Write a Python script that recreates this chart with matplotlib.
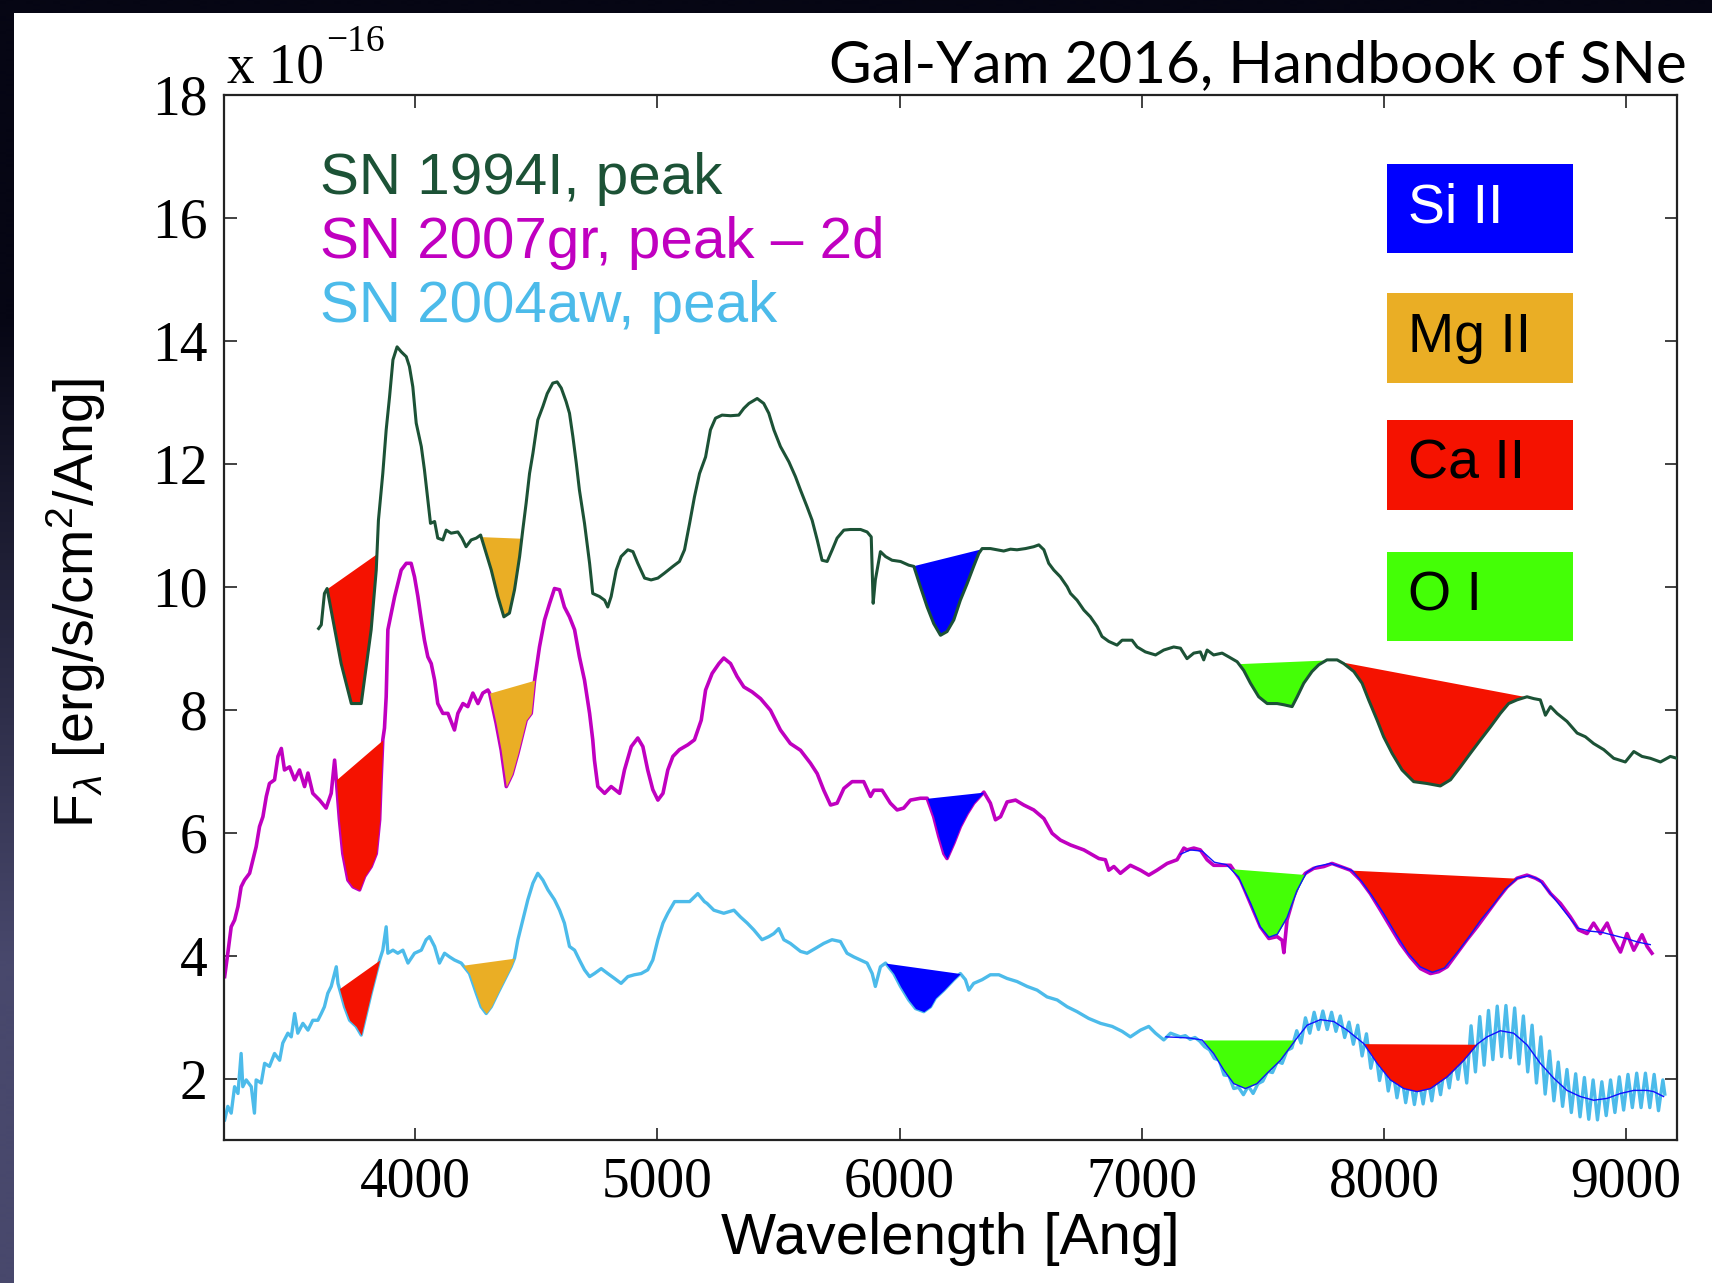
import matplotlib
matplotlib.use("Agg")
import matplotlib.pyplot as plt
from matplotlib.patches import Rectangle
import numpy as np

# ---------------------------------------------------------------------------
# Spektren (Wellenlaenge [Ang], Fluss [1e-16 erg/s/cm^2/Ang])
# ---------------------------------------------------------------------------
# SN 1994I, peak
sn94_wave = [3601, 3612, 3625, 3636, 3694, 3736, 3777, 3818, 3839, 3848, 3866, 3880, 3894, 3908,
             3925, 3942, 3963, 3976, 3990, 4004, 4025, 4038, 4052, 4063, 4080, 4093, 4114, 4128,
             4148, 4176, 4193, 4210, 4231, 4252, 4270, 4314, 4341, 4366, 4389, 4410, 4431, 4444,
             4458, 4472, 4486, 4506, 4527, 4545, 4568, 4586, 4603, 4623, 4637, 4651, 4665, 4678,
             4699, 4720, 4733, 4761, 4782, 4795, 4809, 4830, 4850, 4878, 4899, 4919, 4947, 4974,
             5002, 5029, 5064, 5091, 5112, 5133, 5153, 5174, 5199, 5219, 5240, 5267, 5302, 5336,
             5357, 5378, 5412, 5439, 5460, 5481, 5508, 5543, 5570, 5591, 5618, 5639, 5660, 5680,
             5701, 5722, 5742, 5770, 5797, 5839, 5866, 5883, 5891, 5900, 5921, 5942, 5969, 6004,
             6038, 6059, 6086, 6114, 6141, 6169, 6196, 6224, 6251, 6279, 6306, 6327, 6341, 6375,
             6403, 6430, 6458, 6485, 6520, 6554, 6575, 6596, 6616, 6637, 6664, 6692, 6706, 6733,
             6761, 6788, 6816, 6836, 6864, 6898, 6919, 6960, 6981, 7015, 7057, 7091, 7132, 7160,
             7187, 7215, 7242, 7256, 7270, 7297, 7332, 7359, 7394, 7421, 7449, 7483, 7518, 7559,
             7587, 7621, 7642, 7669, 7703, 7731, 7765, 7807, 7834, 7876, 7910, 7937, 7972, 7999,
             8034, 8075, 8123, 8178, 8233, 8275, 8316, 8357, 8399, 8440, 8481, 8515, 8550, 8591,
             8619, 8646, 8667, 8688, 8715, 8756, 8798, 8832, 8866, 8908, 8949, 8997, 9032, 9066,
             9100, 9142, 9183, 9210]
sn94_flux = [9.32, 9.38, 9.89, 9.97, 8.75, 8.10, 8.10, 9.30, 10.27, 11.08, 11.84, 12.55, 13.09, 13.69,
             13.90, 13.82, 13.74, 13.58, 13.25, 12.66, 12.28, 11.90, 11.41, 11.03, 11.06, 10.79, 10.76, 10.92,
             10.87, 10.89, 10.79, 10.65, 10.76, 10.79, 10.84, 10.27, 9.84, 9.51, 9.57, 9.95, 10.49, 10.92,
             11.36, 11.84, 12.17, 12.71, 12.93, 13.14, 13.31, 13.33, 13.23, 13.01, 12.82, 12.44, 12.01, 11.57,
             11.03, 10.38, 9.89, 9.84, 9.78, 9.67, 9.84, 10.27, 10.49, 10.60, 10.57, 10.38, 10.14, 10.11,
             10.14, 10.22, 10.33, 10.41, 10.60, 11.03, 11.46, 11.84, 12.11, 12.55, 12.74, 12.79, 12.78, 12.79,
             12.90, 12.98, 13.06, 12.98, 12.82, 12.55, 12.28, 12.03, 11.79, 11.57, 11.30, 11.08, 10.76, 10.43,
             10.41, 10.60, 10.79, 10.92, 10.93, 10.93, 10.89, 10.81, 9.73, 10.11, 10.57, 10.49, 10.43, 10.41,
             10.35, 10.33, 10.00, 9.67, 9.40, 9.21, 9.27, 9.46, 9.78, 10.05, 10.33, 10.54, 10.62, 10.62,
             10.60, 10.58, 10.61, 10.60, 10.62, 10.65, 10.68, 10.60, 10.38, 10.27, 10.16, 10.00, 9.89, 9.78,
             9.62, 9.51, 9.35, 9.19, 9.11, 9.05, 9.13, 9.13, 9.02, 8.94, 8.89, 8.97, 9.02, 9.00,
             8.83, 8.92, 8.94, 8.81, 8.97, 8.89, 8.92, 8.86, 8.78, 8.64, 8.43, 8.21, 8.10, 8.10,
             8.08, 8.05, 8.21, 8.43, 8.62, 8.73, 8.81, 8.81, 8.75, 8.62, 8.43, 8.16, 7.83, 7.56,
             7.29, 7.02, 6.83, 6.80, 6.76, 6.86, 7.07, 7.29, 7.51, 7.72, 7.94, 8.10, 8.16, 8.21,
             8.18, 8.16, 7.91, 8.05, 7.94, 7.81, 7.62, 7.56, 7.45, 7.35, 7.21, 7.15, 7.32, 7.24,
             7.21, 7.15, 7.24, 7.21]

# SN 2007gr, peak - 2d
sn07_wave = [3213, 3226, 3240, 3254, 3268, 3281, 3295, 3316, 3330, 3343, 3357, 3371, 3385, 3398,
             3419, 3433, 3447, 3460, 3481, 3502, 3522, 3543, 3557, 3577, 3605, 3632, 3653, 3667,
             3674, 3687, 3701, 3722, 3743, 3770, 3791, 3818, 3839, 3853, 3859, 3866, 3873, 3880,
             3887, 3901, 3915, 3928, 3942, 3963, 3983, 3997, 4011, 4025, 4038, 4052, 4066, 4080,
             4093, 4114, 4135, 4162, 4176, 4197, 4217, 4238, 4259, 4279, 4300, 4307, 4334, 4355,
             4376, 4400, 4424, 4458, 4479, 4493, 4513, 4534, 4555, 4575, 4596, 4616, 4637, 4658,
             4678, 4699, 4720, 4733, 4740, 4754, 4782, 4809, 4844, 4864, 4892, 4919, 4940, 4960,
             4981, 5002, 5023, 5043, 5064, 5091, 5126, 5153, 5167, 5181, 5199, 5226, 5254, 5274,
             5302, 5329, 5357, 5391, 5426, 5467, 5508, 5549, 5591, 5632, 5660, 5687, 5715, 5742,
             5770, 5804, 5852, 5880, 5894, 5928, 5962, 5990, 6017, 6045, 6086, 6114, 6141, 6162,
             6183, 6196, 6224, 6251, 6279, 6306, 6348, 6375, 6396, 6417, 6444, 6479, 6513, 6554,
             6596, 6630, 6664, 6706, 6761, 6823, 6850, 6864, 6885, 6912, 6953, 6995, 7029, 7063,
             7105, 7146, 7174, 7187, 7215, 7242, 7270, 7297, 7339, 7366, 7408, 7449, 7490, 7525,
             7559, 7580, 7587, 7600, 7628, 7655, 7676, 7710, 7752, 7786, 7820, 7862, 7903, 7944,
             7986, 8027, 8068, 8109, 8151, 8192, 8226, 8261, 8302, 8343, 8385, 8426, 8467, 8509,
             8550, 8591, 8626, 8653, 8688, 8729, 8770, 8804, 8839, 8866, 8894, 8922, 8949, 8977,
             9004, 9032, 9066, 9087, 9107]
sn07_flux = [3.66, 4.04, 4.47, 4.58, 4.80, 5.12, 5.23, 5.34, 5.56, 5.77, 6.10, 6.26, 6.59, 6.80,
             6.86, 7.24, 7.37, 7.02, 7.07, 6.86, 7.02, 6.75, 6.97, 6.64, 6.53, 6.40, 6.64, 7.18,
             6.86, 6.21, 5.66, 5.23, 5.12, 5.07, 5.29, 5.45, 5.66, 6.21, 6.86, 7.51, 7.70, 8.21,
             9.30, 9.57, 9.84, 10.05, 10.27, 10.38, 10.38, 10.16, 9.84, 9.46, 9.13, 8.86, 8.75, 8.48,
             8.10, 7.94, 7.94, 7.67, 7.94, 8.10, 8.05, 8.27, 8.10, 8.27, 8.32, 8.27, 7.78, 7.34,
             6.75, 6.95, 7.29, 7.83, 7.94, 8.48, 9.02, 9.46, 9.73, 9.97, 9.95, 9.67, 9.51, 9.30,
             8.86, 8.48, 7.94, 7.51, 7.18, 6.75, 6.64, 6.75, 6.64, 7.02, 7.40, 7.54, 7.40, 7.02,
             6.70, 6.53, 6.64, 7.02, 7.24, 7.35, 7.43, 7.51, 7.67, 7.83, 8.32, 8.59, 8.75, 8.84,
             8.75, 8.54, 8.37, 8.29, 8.18, 7.99, 7.67, 7.45, 7.34, 7.13, 6.96, 6.69, 6.45, 6.48,
             6.72, 6.83, 6.83, 6.59, 6.69, 6.69, 6.48, 6.37, 6.40, 6.53, 6.56, 6.56, 6.26, 5.94,
             5.66, 5.58, 5.83, 6.10, 6.31, 6.48, 6.66, 6.48, 6.21, 6.26, 6.50, 6.53, 6.45, 6.37,
             6.23, 5.99, 5.88, 5.80, 5.72, 5.58, 5.56, 5.39, 5.45, 5.34, 5.47, 5.39, 5.31, 5.39,
             5.50, 5.56, 5.75, 5.72, 5.75, 5.72, 5.56, 5.47, 5.47, 5.47, 5.23, 4.85, 4.47, 4.28,
             4.31, 4.25, 4.05, 4.58, 4.96, 5.23, 5.34, 5.42, 5.45, 5.50, 5.45, 5.39, 5.23, 5.01,
             4.74, 4.47, 4.20, 3.98, 3.79, 3.71, 3.74, 3.82, 4.04, 4.26, 4.47, 4.69, 4.91, 5.12,
             5.26, 5.31, 5.26, 5.20, 5.01, 4.85, 4.63, 4.42, 4.36, 4.53, 4.36, 4.53, 4.26, 4.06,
             4.36, 4.09, 4.34, 4.15, 4.04]

# geglaettete Version (blau) fuer den roten Teil von SN 2007gr
sn07_smooth_wave = [7160, 7200, 7250, 7300, 7350, 7400, 7450, 7490, 7525, 7560, 7600, 7640, 7680,
                    7720, 7780, 7830, 7870, 7910, 7950, 8000, 8050, 8100, 8150, 8200, 8250, 8300,
                    8350, 8400, 8450, 8500, 8550, 8600, 8640, 8680, 8720, 8760, 8800, 8850, 8900,
                    8950, 9000, 9050, 9100]
sn07_smooth_flux = [5.65, 5.72, 5.70, 5.52, 5.48, 5.28, 4.85, 4.47, 4.30, 4.35, 4.62, 5.05, 5.35,
                    5.45, 5.50, 5.44, 5.38, 5.20, 4.98, 4.68, 4.35, 4.04, 3.82, 3.73, 3.80, 4.04,
                    4.30, 4.58, 4.82, 5.08, 5.26, 5.30, 5.24, 5.05, 4.85, 4.65, 4.45, 4.40, 4.38,
                    4.33, 4.28, 4.22, 4.18]

# SN 2004aw, peak
sn04_wave = [3213, 3226, 3240, 3254, 3268, 3281, 3288, 3302, 3323, 3336, 3343, 3364, 3378, 3398,
             3419, 3440, 3453, 3474, 3488, 3502, 3515, 3536, 3557, 3577, 3598, 3612, 3625, 3639,
             3653, 3667, 3674, 3681, 3708, 3729, 3756, 3777, 3798, 3818, 3839, 3853, 3866, 3880,
             3887, 3908, 3928, 3949, 3970, 3997, 4025, 4045, 4059, 4080, 4100, 4121, 4142, 4162,
             4190, 4224, 4252, 4272, 4293, 4314, 4341, 4369, 4396, 4410, 4424, 4444, 4465, 4486,
             4506, 4527, 4548, 4575, 4596, 4616, 4637, 4658, 4678, 4699, 4720, 4740, 4768, 4795,
             4823, 4850, 4878, 4905, 4933, 4960, 4981, 5002, 5023, 5043, 5071, 5098, 5133, 5167,
             5194, 5205, 5233, 5274, 5316, 5343, 5371, 5398, 5432, 5460, 5481, 5501, 5522, 5549,
             5591, 5618, 5653, 5687, 5721, 5756, 5783, 5811, 5839, 5866, 5887, 5900, 5921, 5942,
             5976, 6004, 6038, 6066, 6100, 6128, 6148, 6183, 6224, 6251, 6272, 6286, 6306, 6341,
             6375, 6410, 6444, 6485, 6527, 6568, 6609, 6651, 6692, 6733, 6781, 6830, 6878, 6919,
             6953, 6995, 7029, 7057, 7091, 7119, 7160, 7180, 7200, 7220, 7240, 7260, 7280, 7300,
             7320, 7340, 7360, 7380, 7400, 7420, 7440, 7460, 7480, 7500, 7520, 7540, 7560, 7580,
             7600, 7620, 7640, 7658, 7676, 7694, 7712, 7730, 7748, 7766, 7784, 7802, 7820, 7838,
             7856, 7874, 7892, 7910, 7928, 7946, 7964, 7982, 8000, 8018, 8036, 8054, 8072, 8090,
             8108, 8126, 8144, 8162, 8180, 8198, 8216, 8234, 8252, 8270, 8288, 8306, 8324, 8342,
             8360, 8378, 8396, 8414, 8432, 8450, 8468, 8486, 8504, 8522, 8540, 8558, 8576, 8594,
             8612, 8630, 8648, 8666, 8684, 8702, 8720, 8738, 8756, 8774, 8792, 8810, 8828, 8846,
             8864, 8882, 8900, 8918, 8936, 8954, 8972, 8990, 9008, 9026, 9044, 9062, 9080, 9098,
             9116, 9134, 9152, 9160]
sn04_flux = [1.33, 1.55, 1.44, 1.87, 1.76, 2.41, 1.87, 1.98, 1.87, 1.44, 1.98, 1.93, 2.25, 2.20,
             2.41, 2.30, 2.58, 2.74, 2.68, 3.06, 2.74, 2.90, 2.79, 2.95, 2.95, 3.06, 3.17, 3.39,
             3.50, 3.71, 3.82, 3.55, 3.17, 2.95, 2.85, 2.71, 3.06, 3.39, 3.71, 3.93, 4.09, 4.47,
             4.04, 4.09, 4.04, 4.09, 3.88, 4.04, 4.09, 4.26, 4.31, 4.15, 3.88, 4.04, 3.98, 3.93,
             3.88, 3.71, 3.39, 3.17, 3.06, 3.17, 3.39, 3.61, 3.82, 3.96, 4.26, 4.58, 4.91, 5.18,
             5.34, 5.23, 5.07, 4.91, 4.74, 4.53, 4.15, 4.09, 3.93, 3.77, 3.66, 3.71, 3.79, 3.71,
             3.63, 3.55, 3.66, 3.69, 3.71, 3.77, 3.93, 4.26, 4.53, 4.69, 4.88, 4.88, 4.88, 5.01,
             4.88, 4.85, 4.74, 4.69, 4.74, 4.63, 4.53, 4.42, 4.26, 4.31, 4.36, 4.44, 4.26, 4.20,
             4.07, 4.04, 4.12, 4.20, 4.26, 4.23, 4.04, 3.98, 3.93, 3.88, 3.71, 3.50, 3.82, 3.88,
             3.71, 3.50, 3.28, 3.14, 3.09, 3.17, 3.31, 3.44, 3.61, 3.71, 3.61, 3.44, 3.55, 3.61,
             3.69, 3.69, 3.63, 3.58, 3.50, 3.44, 3.33, 3.28, 3.17, 3.09, 2.98, 2.90, 2.85, 2.77,
             2.68, 2.79, 2.85, 2.74, 2.63, 2.74, 2.68, 2.70, 2.64, 2.67, 2.61, 2.52, 2.47, 2.33,
             2.30, 2.06, 2.05, 1.84, 1.86, 1.74, 1.88, 1.76, 1.92, 1.96, 2.12, 2.10, 2.28, 2.25,
             2.46, 2.50, 2.78, 2.58, 2.99, 2.74, 3.08, 2.80, 3.10, 2.80, 3.08, 2.77, 3.02, 2.67,
             2.92, 2.56, 2.87, 2.37, 2.73, 2.17, 2.50, 1.97, 2.33, 1.80, 2.17, 1.69, 2.08, 1.61,
             2.04, 1.58, 2.01, 1.59, 2.05, 1.64, 2.13, 1.74, 2.23, 1.85, 2.36, 1.99, 2.50, 1.93,
             2.86, 2.11, 3.01, 2.22, 3.11, 2.31, 3.18, 2.36, 3.19, 2.34, 3.15, 2.24, 3.02, 2.11,
             2.87, 1.93, 2.68, 1.75, 2.45, 1.64, 2.27, 1.55, 2.15, 1.45, 2.08, 1.38, 2.02, 1.34,
             1.98, 1.33, 1.95, 1.40, 1.98, 1.45, 2.03, 1.49, 2.07, 1.53, 2.09, 1.53, 2.09, 1.53,
             2.07, 1.48, 1.98, 1.75]

# geglaettete Version (blau) fuer den roten Teil von SN 2004aw
sn04_smooth_wave = [7100, 7160, 7200, 7249, 7297, 7339, 7380, 7428, 7476, 7518, 7573, 7635, 7683,
                    7738, 7793, 7848, 7917, 7972, 8027, 8082, 8137, 8192, 8261, 8330, 8385, 8426,
                    8481, 8536, 8591, 8646, 8701, 8756, 8811, 8866, 8922, 8977, 9032, 9087, 9114,
                    9155]
sn04_smooth_flux = [2.68, 2.67, 2.66, 2.63, 2.41, 2.14, 1.92, 1.84, 1.92, 2.09, 2.30, 2.63, 2.87,
                    2.96, 2.93, 2.79, 2.57, 2.25, 1.98, 1.84, 1.79, 1.84, 2.03, 2.30, 2.56, 2.68,
                    2.78, 2.74, 2.55, 2.25, 2.01, 1.81, 1.71, 1.65, 1.68, 1.76, 1.81, 1.81, 1.79,
                    1.71]

# Absorptionslinien: (von, bis) in Ang
sn94_lines = {"Ca II": [(3636, 3842), (7820, 8598)], "Mg II": [(4272, 4440)],
              "Si II": [(6052, 6341)], "O I": [(7400, 7770)]}
sn07_lines = {"Ca II": [(3674, 3866)], "Mg II": [(4307, 4493)], "Si II": [(6114, 6348)]}
sn07_lines_smooth = {"O I": [(7366, 7676)], "Ca II": [(7862, 8550)]}
sn04_lines = {"Ca II": [(3687, 3853)], "Mg II": [(4197, 4410)], "Si II": [(5942, 6251)]}
sn04_lines_smooth = {"O I": [(7249, 7635)], "Ca II": [(7917, 8385)]}

ion_names = ["Si II", "Mg II", "Ca II", "O I"]
ion_colors = {"Si II": "#0000ff", "Mg II": "#eaae25", "Ca II": "#f51200", "O I": "#44ff06"}
ion_textcolors = {"Si II": "white", "Mg II": "black", "Ca II": "black", "O I": "black"}

labels = ["SN 1994I, peak", "SN 2007gr, peak \u2013 2d", "SN 2004aw, peak"]
farben = ["#1c5236", "#c000c0", "#4cbbea"]

sans = ["Liberation Sans", "DejaVu Sans"]
serif = ["Liberation Serif", "DejaVu Serif"]

plt.rcParams["mathtext.fontset"] = "custom"
plt.rcParams["mathtext.rm"] = "Liberation Sans"
plt.rcParams["mathtext.it"] = "Liberation Sans:italic"


def shade(ax, wave, flux, lo, hi, color):
    # Flaeche zwischen Kontinuum (Gerade) und Spektrum
    w = np.asarray(wave, float)
    f = np.asarray(flux, float)
    m = (w > lo) & (w < hi)
    ws = np.concatenate([[lo], w[m], [hi]])
    fs = np.interp(ws, w, f)
    cont = np.interp(ws, [lo, hi], [fs[0], fs[-1]])
    ax.fill_between(ws, fs, cont, color=color, lw=0, zorder=3)


fig = plt.figure(figsize=(17.12, 12.83), dpi=100)

# Hintergrund (dunkler Rahmen oben/links)
bg = fig.add_axes([0, 0, 1, 1], zorder=-10)
grad = np.array([[[6, 6, 20]], [[72, 72, 108]]], dtype=float) / 255.0
bg.imshow(grad, extent=[0, 1, 0, 1], aspect="auto", interpolation="bilinear")
bg.add_patch(Rectangle((14 / 1712, 0), 1, 1 - 13 / 1283, color="white", lw=0))
bg.set_xlim(0, 1)
bg.set_ylim(0, 1)
bg.axis("off")

ax = fig.add_axes([0.1308, 0.1113, 0.8487, 0.8149])

ax.plot(sn94_wave, sn94_flux, color=farben[0], lw=2.2, zorder=4)
ax.plot(sn07_wave, sn07_flux, color=farben[1], lw=2.6, zorder=2)
ax.plot(sn04_wave, sn04_flux, color=farben[2], lw=2.4, zorder=2)
ax.plot(sn07_smooth_wave, sn07_smooth_flux, color="#1010ff", lw=1.0, zorder=5)
ax.plot(sn04_smooth_wave, sn04_smooth_flux, color="#1010ff", lw=1.0, zorder=5)

for wave, flux, lines in [(sn94_wave, sn94_flux, sn94_lines),
                          (sn07_wave, sn07_flux, sn07_lines),
                          (sn07_smooth_wave, sn07_smooth_flux, sn07_lines_smooth),
                          (sn04_wave, sn04_flux, sn04_lines),
                          (sn04_smooth_wave, sn04_smooth_flux, sn04_lines_smooth)]:
    for ion, bereiche in lines.items():
        for lo, hi in bereiche:
            shade(ax, wave, flux, lo, hi, ion_colors[ion])

# Farbkaesten fuer die Ionen
box_top = [16.88, 14.78, 12.71, 10.57]
for ion, top in zip(ion_names, box_top):
    ax.add_patch(Rectangle((8013, top - 1.46), 766, 1.46, color=ion_colors[ion], lw=0, zorder=6))
    ax.text(8100, top - 0.73, ion, color=ion_textcolors[ion], fontsize=40, family=sans,
            ha="left", va="center", zorder=7)

# Beschriftung der Spektren
for i, (lab, c) in enumerate(zip(labels, farben)):
    ax.text(3605, 16.39 - 1.045 * i, lab, color=c, fontsize=42, family=sans,
            ha="left", va="baseline", zorder=7)

ax.set_xlim(3210, 9210)
ax.set_ylim(1, 18)
ax.set_xticks([4000, 5000, 6000, 7000, 8000, 9000])
ax.set_yticks([2, 4, 6, 8, 10, 12, 14, 16, 18])
ax.tick_params(direction="in", top=True, right=True, length=9, width=1.3,
               labelsize=40, color="#333333")
ax.tick_params(axis="x", pad=12)
ax.tick_params(axis="y", pad=12)
for lab in ax.get_xticklabels() + ax.get_yticklabels():
    lab.set_family(serif)
for s in ax.spines.values():
    s.set_linewidth(1.6)
    s.set_color("#222222")

fig.text(0.555, 0.034, "Wavelength [Ang]", fontsize=42, family=sans, ha="center", va="center")
fig.text(0.0444, 0.530, r"F$_\lambda$ [erg/s/cm$^2$/Ang]", fontsize=40, family=sans,
         rotation=90, ha="center", va="center")

fig.text(227 / 1712, 0.936, "x 10", fontsize=40, family=serif, ha="left", va="baseline")
fig.text(326 / 1712, 0.960, "\u221216", fontsize=27, family=serif, ha="left", va="baseline")

fig.text(0.9854, 0.936, "Gal-Yam 2016, Handbook of SNe", fontsize=42, family=["Lato", "DejaVu Sans"],
         color="black", ha="right", va="baseline")

plt.savefig("out.png", dpi=100)
